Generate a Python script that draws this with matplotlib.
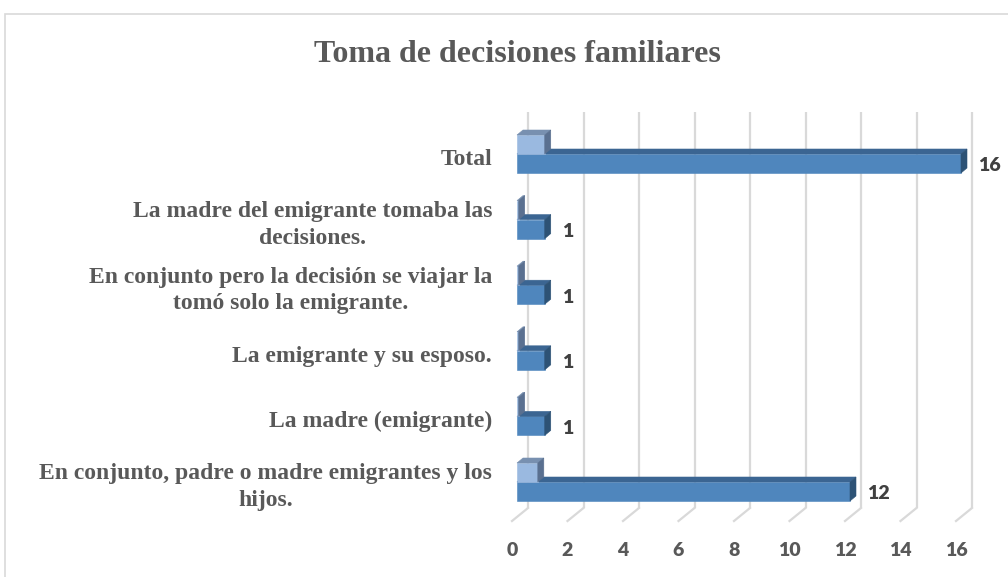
import matplotlib
matplotlib.use("Agg")
import matplotlib.pyplot as plt
from matplotlib.patches import Polygon, Rectangle

# categories from bottom to top
categorias = [
    "En conjunto, padre o madre emigrantes y los\nhijos.",
    "La madre (emigrante)",
    "La emigrante y su esposo.",
    "En conjunto pero la decisión se viajar la\ntomó solo la emigrante.",
    "La madre del emigrante tomaba las\ndecisiones.",
    "Total",
]
frecuencia = [12, 1, 1, 1, 1, 16]
porcentaje = [0.75, 0.0625, 0.0625, 0.0625, 0.0625, 1.0]
xticks = [0, 2, 4, 6, 8, 10, 12, 14, 16]

# colours of the faces (front, top, side)
azul = ("#4f86bd", "#3b6592", "#2d5275")
azul_claro = ("#9ab9e0", "#7890b0", "#5a7090")
gris_txt = "#595959"
gris_lin = "#d9d9d9"

W, H = 1008, 577
fig = plt.figure(figsize=(W / 100, H / 100), dpi=100)
ax = fig.add_axes([0, 0, 1, 1])
ax.set_axis_off()

# pixel scale of the chart: 27.75 px per unit, 65.6 px per category
sx, sy = 27.75, 65.6
ax.set_xlim(-517 / sx, (W - 517) / sx)
ax.set_ylim(-95 / sy, (H - 95) / sy)

h = 19 / sy          # bar thickness
dx, dy = 6 / sx, 5 / sy   # bar depth
wx, wy0, wy1 = 11 / sx, -26 / sy, 5 + 42 / sy   # back wall
fx, fy = -5 / sx, -39 / sy                       # front edge of the floor


def barra3d(x0, w, yb, cols, z):
    front, top, side = cols
    caras = [
        ([(x0, yb), (x0 + w, yb), (x0 + w, yb + h), (x0, yb + h)], front),
        ([(x0, yb + h), (x0 + w, yb + h), (x0 + w + dx, yb + h + dy),
          (x0 + dx, yb + h + dy)], top),
        ([(x0 + w, yb), (x0 + w + dx, yb + dy), (x0 + w + dx, yb + h + dy),
          (x0 + w, yb + h)], side),
    ]
    for pts, c in caras:
        ax.add_patch(Polygon(pts, closed=True, facecolor=c, edgecolor=c,
                             linewidth=0.4, zorder=z))


# gridlines on the back wall and the floor
for v in xticks:
    ax.plot([v + wx, v + wx], [wy0, wy1], color=gris_lin, lw=1.6, zorder=1,
            solid_capstyle="butt")
    ax.plot([v + wx, v + fx], [wy0, fy], color=gris_lin, lw=1.6, zorder=1)
    ax.text(v + fx, -69 / sy, str(v), ha="center", va="center",
            fontsize=14, fontweight="heavy", color=gris_txt, family="Lato")

for i, (cat, n, p) in enumerate(zip(categorias, frecuencia, porcentaje)):
    barra3d(0, n, i - h, azul, 3 + i * 0.1)
    barra3d(0, p, i, azul_claro, 3.05 + i * 0.1)
    ax.text(n + dx + 0.4, i - 0.18, str(n), ha="left", va="center",
            fontsize=14, fontweight="heavy", color="#404040", family="Lato")
    ax.text(-25 / sx, i - 0.08, cat, ha="right", va="center",
            multialignment="center", fontsize=17, fontweight="bold",
            color=gris_txt, family="Liberation Serif", linespacing=1.35)

fig.text(517 / W, 1 - 55 / H, "Toma de decisiones familiares", ha="center",
         va="center", fontsize=23, fontweight="bold", color=gris_txt,
         family="Liberation Serif")

# chart border
fig.patches.append(Rectangle((5 / W, -0.1), 1.2, 1.1 - 14 / H,
                             transform=fig.transFigure, fill=False,
                             edgecolor=gris_lin, lw=1.2))

fig.savefig("out.png", dpi=100)
